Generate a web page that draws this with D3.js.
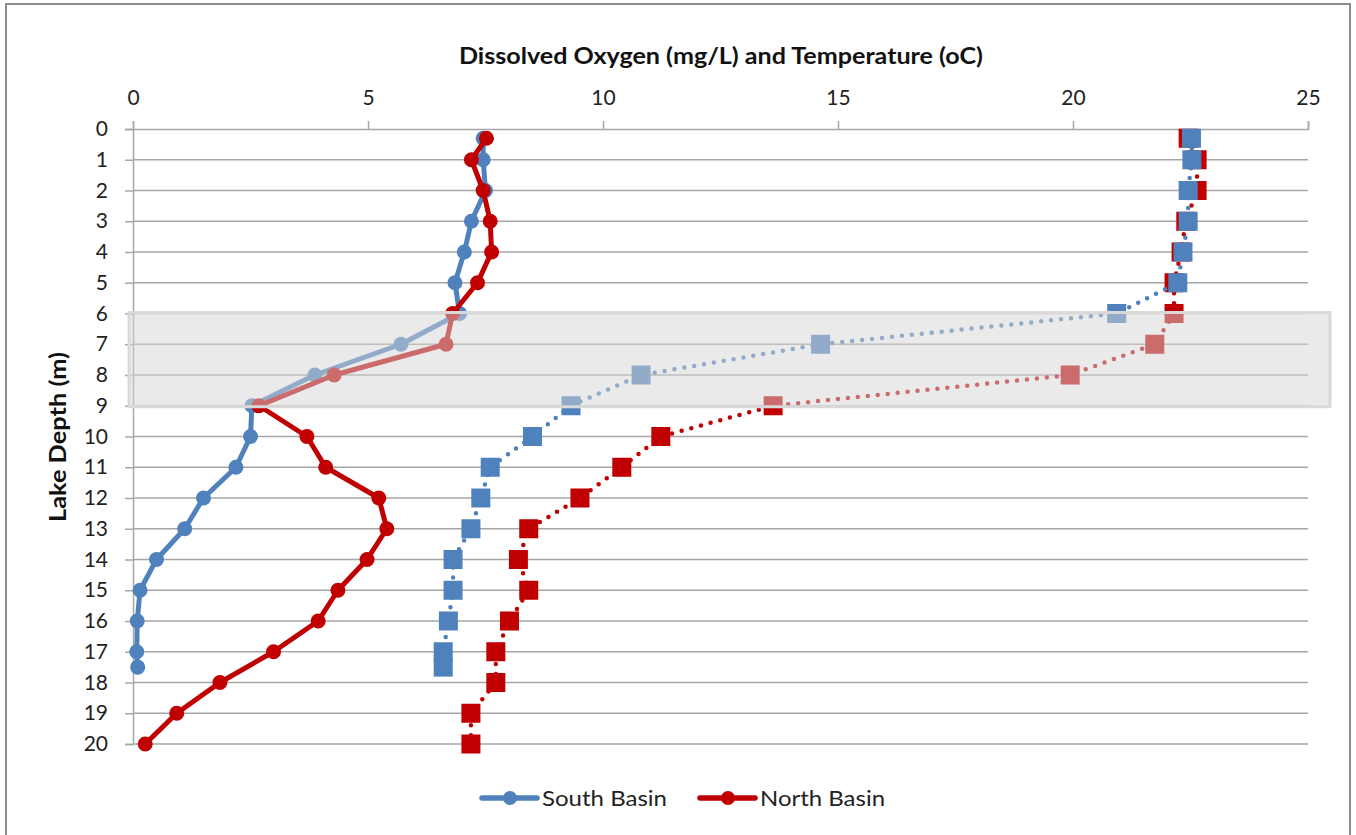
<!DOCTYPE html>
<html><head><meta charset="utf-8">
<script src="https://cdn.jsdelivr.net/npm/d3@7"></script>
<style>body{margin:0;background:#fff}svg{display:block;font-family:Lato,"Open Sans",sans-serif}</style>
</head><body><svg id="c" width="1356" height="835"></svg>
<script>
const southDepth = [0.3,1,2,3,4,5,6,7,8,9,10,11,12,13,14,15,16,17,17.5];
const southDO    = [7.45,7.45,7.5,7.2,7.05,6.85,6.95,5.7,3.87,2.53,2.5,2.19,1.5,1.1,0.5,0.15,0.09,0.08,0.1];
const southTemp  = [22.52,22.53,22.45,22.45,22.34,22.23,20.93,14.63,10.81,9.32,8.5,7.6,7.4,7.19,6.81,6.81,6.71,6.6,6.6];
const northDepth = [0.3,1,2,3,4,5,6,7,8,9,10,11,12,13,14,15,16,17,18,19,20];
const northDO    = [7.52,7.2,7.45,7.6,7.63,7.33,6.8,6.66,4.28,2.68,3.7,4.1,5.23,5.4,4.98,4.36,3.94,2.99,1.85,0.93,0.26];
const northTemp  = [22.45,22.64,22.64,22.4,22.3,22.15,22.15,21.74,19.94,13.62,11.23,10.4,9.51,8.42,8.2,8.42,8.01,7.72,7.72,7.19,7.19];
const xTicks = [0,5,10,15,20,25];
const yTicks = d3.range(0,21);
const bandDepths = [6,9];
const seriesNames = ["South Basin","North Basin"];
const blue = "#4f81bd", red = "#c00000";

const svg = d3.select("#c");
const x = d3.scaleLinear().domain([0,25]).range([133,1308]);
const y = d3.scaleLinear().domain([0,20]).range([129,744]);

// outer frame
svg.append("rect").attr("x",6).attr("y",4).attr("width",1344).attr("height",850)
  .attr("fill","#fff").attr("stroke","#8c8c8c").attr("stroke-width",2);

// gridlines
svg.append("g").selectAll("line").data(yTicks.slice(1)).join("line")
  .attr("x1",x(0)).attr("x2",x(25)).attr("y1",d=>y(d)).attr("y2",d=>y(d))
  .attr("stroke","#a6a6a6").attr("stroke-width",1.5);

// top axis
const gx = svg.append("g").attr("transform",`translate(0,${y(0)})`)
  .call(d3.axisTop(x).tickValues(xTicks).tickSize(8).tickPadding(16).tickFormat(d3.format("d")));
gx.select(".domain").attr("stroke","#a6a6a6").attr("stroke-width",1.5);
gx.selectAll(".tick line").attr("stroke","#a6a6a6").attr("stroke-width",1.5);
gx.selectAll("text").attr("font-size",21).attr("fill","#222").attr("font-family","Lato");

// left axis
const gy = svg.append("g").attr("transform",`translate(${x(0)},0)`)
  .call(d3.axisLeft(y).tickValues(yTicks).tickSize(8).tickPadding(17).tickFormat(d3.format("d")));
gy.select(".domain").attr("stroke","#a6a6a6").attr("stroke-width",1.5);
gy.selectAll(".tick line").attr("stroke","#a6a6a6").attr("stroke-width",1.5);
gy.selectAll("text").attr("font-size",21).attr("fill","#222").attr("font-family","Lato");

// titles
svg.append("text").attr("x",721).attr("y",64).attr("text-anchor","middle")
  .attr("font-weight","bold").attr("font-size",22).attr("fill","#111")
  .attr("textLength",524).attr("lengthAdjust","spacingAndGlyphs")
  .text("Dissolved Oxygen (mg/L) and Temperature (oC)");
svg.append("text").attr("transform",`translate(58,437) rotate(-90)`).attr("text-anchor","middle")
  .attr("dy","0.35em")
  .attr("font-weight","bold").attr("font-size",22).attr("fill","#111")
  .attr("textLength",170).attr("lengthAdjust","spacingAndGlyphs")
  .text("Lake Depth (m)");

function zip(d, v){ return d.map((dd,i)=>[v[i],dd]); }
const line = d3.line().x(p=>x(p[0])).y(p=>y(p[1]));

function tempSeries(depth, vals, color){
  const pts = zip(depth, vals);
  svg.append("path").datum(pts).attr("d",line).attr("fill","none")
    .attr("stroke",color).attr("stroke-width",4.5).attr("stroke-linecap","round")
    .attr("stroke-dasharray","0 10");
  svg.append("g").selectAll("rect").data(pts).join("rect")
    .attr("x",p=>x(p[0])-9.5).attr("y",p=>y(p[1])-9.5).attr("width",19).attr("height",19)
    .attr("fill",color);
}
function doSeries(depth, vals, color){
  const pts = zip(depth, vals);
  svg.append("path").datum(pts).attr("d",line).attr("fill","none")
    .attr("stroke",color).attr("stroke-width",5).attr("stroke-linejoin","round");
  svg.append("g").selectAll("circle").data(pts).join("circle")
    .attr("cx",p=>x(p[0])).attr("cy",p=>y(p[1])).attr("r",7.5).attr("fill",color);
}
tempSeries(northDepth, northTemp, red);
tempSeries(southDepth, southTemp, blue);
doSeries(southDepth, southDO, blue);
doSeries(northDepth, northDO, red);

// shaded band
svg.append("rect").attr("x",x(0)-4).attr("y",y(bandDepths[0])-1)
  .attr("width",1330-(x(0)-4)).attr("height",y(bandDepths[1])-y(bandDepths[0])+2)
  .attr("fill","#d6d6d6").attr("fill-opacity",0.5)
  .attr("stroke","#d9d9d9").attr("stroke-width",3);

// legend
const leg = [{name:seriesNames[0],color:blue,x:482},{name:seriesNames[1],color:red,x:700}];
const lg = svg.append("g").selectAll("g").data(leg).join("g");
lg.append("line").attr("x1",d=>d.x).attr("x2",d=>d.x+55).attr("y1",798).attr("y2",798)
  .attr("stroke",d=>d.color).attr("stroke-width",5.5).attr("stroke-linecap","round");
lg.append("circle").attr("cx",d=>d.x+28).attr("cy",798).attr("r",7).attr("fill",d=>d.color);
lg.append("text").attr("x",d=>d.x+60).attr("y",806).attr("font-size",21).attr("fill","#222")
  .attr("textLength",125).attr("lengthAdjust","spacingAndGlyphs")
  .text(d=>d.name);
</script></body></html>
